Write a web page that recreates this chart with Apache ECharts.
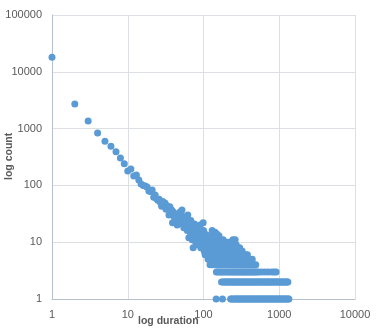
<!DOCTYPE html>
<html>
<head>
<meta charset="utf-8">
<script src="https://cdn.jsdelivr.net/npm/echarts@6/dist/echarts.min.js"></script>
<style>
  html, body { margin: 0; padding: 0; background: #fff; }
  #chart { width: 386px; height: 331px; }
</style>
</head>
<body>
<div id="chart"></div>
<script>
// count for each duration 1..100
const headCounts = [
  18000, 2700, 1360, 840, 600, 490, 390, 305, 240, 180,
  195, 146, 152, 124, 106, 100, 98, 94, 80, 78,
  83, 62, 68, 58, 55, 57, 50, 43, 52, 46,
  49, 38, 44, 40, 30, 42, 33, 37, 22, 34,
  28, 27, 31, 24, 20, 29, 26, 22, 34, 30,
  24, 37, 21, 25, 18, 28, 18, 23, 21, 26,
  16, 30, 19, 12, 22, 18, 15, 24, 17, 14,
  11, 19, 8, 16, 13, 21, 12, 15, 10, 15,
  9, 13, 17, 11, 13, 10, 14, 9, 12, 20,
  11, 8, 13, 10, 15, 10, 9, 12, 22, 16
];

// low counts above duration 100 form rows; durations where each row is drawn
const rowCounts = [1, 2, 3, 4, 5, 6, 7, 8, 9, 10, 11, 12, 13];
const rowDurations = [
  [147, 178, 228, 235, 243, 254, 262, 270, 278, 286, 295, 304, 314, 324, 334, 344, 355, 365, 376, 388, 400, 413, 426, 439, 452, 466, 480, 495, 510, 526, 542, 559, 576, 594, 613, 632, 651, 671, 692, 713, 735, 758, 781, 805, 830, 857, 883, 910, 938, 968, 998, 1028, 1060, 1092, 1126, 1161, 1197, 1234, 1272, 1312, 1340],
  [173, 180, 187, 193, 199, 205, 211, 218, 225, 232, 239, 247, 254, 262, 270, 278, 286, 295, 304, 314, 324, 334, 344, 355, 365, 376, 388, 400, 413, 426, 439, 452, 466, 480, 495, 510, 526, 542, 559, 576, 594, 613, 632, 651, 671, 692, 713, 735, 758, 781, 805, 830, 857, 883, 910, 938, 968, 998, 1028, 1060, 1092, 1126, 1161, 1197, 1234, 1272, 1300],
  [148, 156, 164, 172, 180, 190, 200, 211, 222, 232, 244, 254, 266, 278, 290, 304, 318, 332, 346, 360, 376, 392, 410, 428, 446, 466, 486, 510, 540, 590, 650, 720, 800, 860, 910],
  [122, 130, 138, 147, 156, 166, 176, 187, 199, 211, 225, 239, 254, 270, 286, 304, 324, 344, 365, 388, 413, 439, 466, 490],
  [115, 122, 130, 138, 147, 156, 166, 176, 187, 199, 211, 225, 239, 254, 270, 286, 304, 324, 344, 365, 388, 413, 440],
  [105, 112, 120, 128, 136, 145, 155, 166, 176, 187, 199, 211, 225, 239, 254, 270, 286, 304, 324, 344, 365, 380],
  [102, 110, 118, 126, 135, 145, 156, 166, 176, 187, 199, 211, 225, 239, 254, 270, 286, 304, 324],
  [104, 112, 121, 130, 140, 150, 161, 172, 184, 197, 211, 225, 239, 262, 282, 300],
  [108, 116, 125, 134, 144, 155, 166, 178, 190, 204, 218, 232, 250, 270],
  [104, 111, 118, 126, 135, 144, 154, 166, 178, 190, 204, 218, 234, 250],
  [101, 109, 118, 128, 140, 152, 166, 182, 244, 262],
  [103, 112, 122, 133, 145, 160],
  [107, 120, 138]
];

// a few loose points on top of the cloud
const extraDurations = [105, 118, 130, 142, 150, 160];
const extraCounts = [14, 13, 16, 15, 14, 13];

const points = headCounts.map((c, i) => [i + 1, c]);
rowCounts.forEach((c, k) => rowDurations[k].forEach(d => points.push([d, c])));
extraDurations.forEach((d, i) => points.push([d, extraCounts[i]]));

const labelStyle = {
  color: '#595959',
  fontSize: 11,
  fontFamily: 'Liberation Sans',
  margin: 10,
  formatter: v => String(Math.round(v))
};
const lineColor = '#B7C1CD';
const gridColor = '#DCDFE4';

const chart = echarts.init(document.getElementById('chart'));
chart.setOption({
  animation: false,
  grid: { left: 52, right: 31, top: 15, bottom: 32 },
  xAxis: {
    type: 'log',
    logBase: 10,
    min: 1,
    max: 10000,
    axisLine: { show: true, lineStyle: { color: lineColor } },
    axisTick: { show: false },
    axisLabel: labelStyle,
    splitLine: { show: true, lineStyle: { color: gridColor } }
  },
  yAxis: {
    type: 'log',
    logBase: 10,
    min: 1,
    max: 100000,
    axisLine: { show: true, lineStyle: { color: lineColor } },
    axisTick: { show: false },
    axisLabel: labelStyle,
    splitLine: { show: true, lineStyle: { color: gridColor } }
  },
  graphic: [
    {
      type: 'text', left: 138, top: 316,
      style: { text: 'log duration', fill: '#595959', font: 'bold 10.5px "Liberation Sans"' }
    },
    {
      type: 'text', x: 4, y: 180, rotation: Math.PI / 2,
      style: { text: 'log count', fill: '#595959', font: 'bold 10.5px "Liberation Sans"' }
    }
  ],
  series: [{
    type: 'scatter',
    symbol: 'circle',
    symbolSize: 7,
    itemStyle: { color: '#5B9BD5', opacity: 1 },
    data: points
  }]
});
</script>
</body>
</html>
